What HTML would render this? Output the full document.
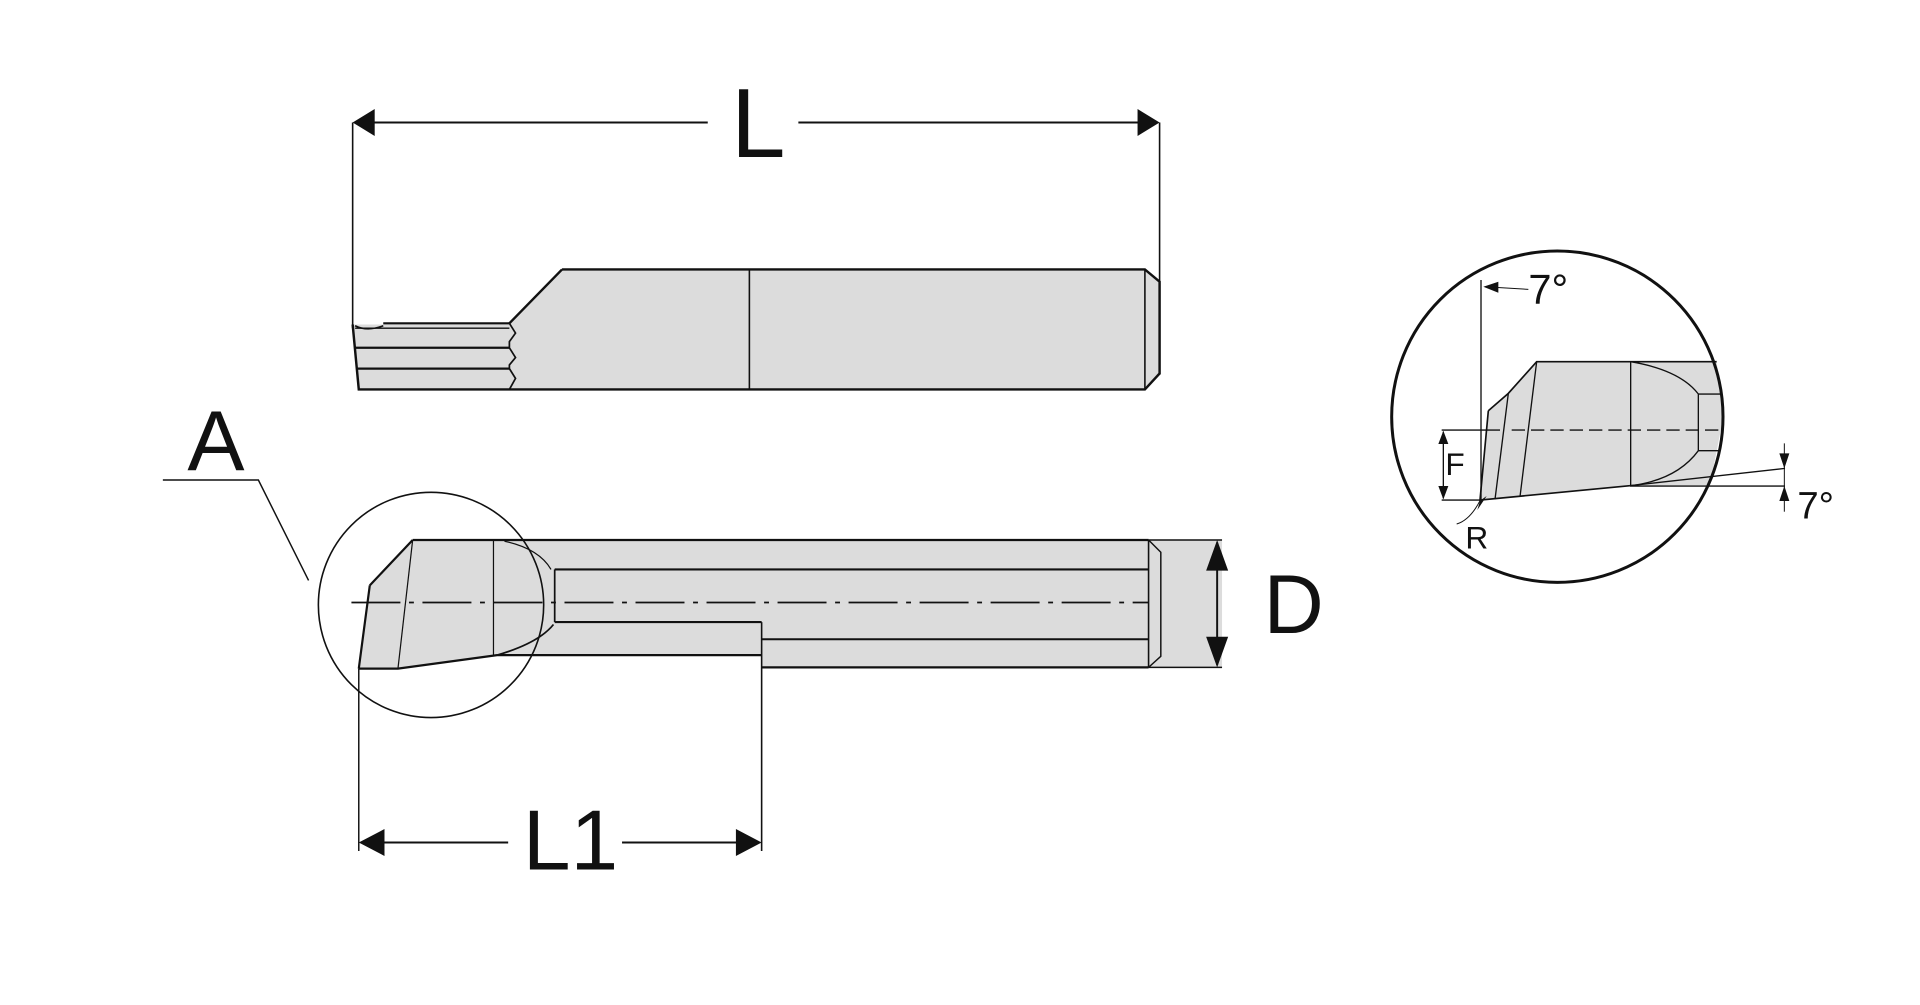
<!DOCTYPE html>
<html><head><meta charset="utf-8"><style>html,body{margin:0;padding:0;background:#fff;}svg{display:block;}</style></head>
<body>
<svg width="1920" height="1005" viewBox="0 0 1568 820.7" xmlns="http://www.w3.org/2000/svg" font-family="Liberation Sans, sans-serif">
<defs>
<marker id="ah" viewBox="0 0 10 10" refX="10" refY="5" markerWidth="10" markerHeight="10" markerUnits="userSpaceOnUse" orient="auto-start-reverse"><path d="M0,0 L10,5 L0,10 z" fill="#111"/></marker>
</defs>
<g stroke="#111" fill="none">
<!-- L dimension -->
<line x1="288" y1="100" x2="288" y2="268" stroke-width="1.3"/>
<line x1="947" y1="100" x2="947" y2="306" stroke-width="1.3"/>
<line x1="290" y1="100" x2="578" y2="100" stroke-width="1.6"/>
<line x1="652" y1="100" x2="945" y2="100" stroke-width="1.6"/>
<path d="M288,100 L306,89 L306,111 z M947,100 L929,89 L929,111 z" fill="#111" stroke="none"/>
<!-- top tool -->
<path d="M288,265 L313,265 L313,263.6 L416,263.6 L459,220 L935,220 L947,230 L947,305 L935,318 L293,318 z" fill="#dcdcdc" stroke="none"/>
<path d="M459,220 L935,220 L947,230 L947,305 L935,318 L293,318 L288,265" stroke-width="2"/>
<path d="M459,220 L416,264" stroke-width="2"/>
<line x1="935" y1="220" x2="935" y2="318" stroke-width="1.3"/>
<line x1="612" y1="220" x2="612" y2="318" stroke-width="1.3"/>
<path d="M313,264 L416,264" stroke-width="1.8"/>
<path d="M290,266 Q300,271 313,266" stroke-width="1.3"/>
<line x1="290" y1="268" x2="416" y2="268" stroke-width="1.2"/>
<line x1="290" y1="284" x2="416" y2="284" stroke-width="1.8"/>
<line x1="291" y1="301" x2="416" y2="301" stroke-width="1.8"/>
<path d="M416,264 L421,272 L416,279 L416,284 L421,292 L416,298 L416,301 L421,309 L416,318" stroke-width="1.4"/>
<!-- bottom tool -->
<path d="M337,441 L998,441 L998,545 L622,545 L622,535 L406,535 L325,546 L293,546 L302,478 z" fill="#dcdcdc" stroke="none"/>
<path d="M337,441 L938,441 M622,545 L938,545 M406,535 L622,535 M302,478 L337,441 M293,546 L302,478 M293,546 L325,546 L406,535" stroke-width="1.8"/>
<line x1="938" y1="441" x2="998" y2="441" stroke-width="1.2"/>
<line x1="938" y1="545" x2="998" y2="545" stroke-width="1.2"/>
<line x1="938" y1="441" x2="938" y2="545" stroke-width="1.3"/>
<path d="M938,441 L948,451 L948,536 L938,545" stroke-width="1.2"/>
<line x1="337" y1="441" x2="325" y2="546" stroke-width="1"/>
<line x1="403" y1="441" x2="403" y2="535" stroke-width="1"/>
<path d="M412,442 Q440,448 450,465" stroke-width="1"/>
<path d="M406,535 Q440,525 452,510" stroke-width="1.4"/>
<line x1="453" y1="465" x2="453" y2="508" stroke-width="1.4"/>
<line x1="453" y1="465" x2="938" y2="465" stroke-width="1.8"/>
<line x1="453" y1="508" x2="622" y2="508" stroke-width="1.8"/>
<line x1="622" y1="508" x2="622" y2="695" stroke-width="1.3"/>
<line x1="622" y1="522" x2="938" y2="522" stroke-width="1.6"/>
<line x1="287" y1="492" x2="938" y2="492" stroke-width="1.4" stroke-dasharray="40,7,4,7"/>
<!-- A circle + leader -->
<circle cx="352" cy="494" r="92" stroke-width="1.3"/>
<path d="M133,392 L211,392 L252,474" stroke-width="1.2"/>
<!-- D dim -->
<line x1="994" y1="443" x2="994" y2="543" stroke-width="1.6"/>
<path d="M994,441 L985,466 L1003,466 z M994,545 L985,520 L1003,520 z" fill="#111" stroke="none"/>
<!-- L1 dim -->
<line x1="293" y1="546" x2="293" y2="695" stroke-width="1.2"/>
<line x1="295" y1="688" x2="415" y2="688" stroke-width="1.6"/>
<line x1="508" y1="688" x2="620" y2="688" stroke-width="1.6"/>
<path d="M293,688 L314,677 L314,699 z M622,688 L601,677 L601,699 z" fill="#111" stroke="none"/>
</g>
<g fill="#111" font-size="80">
<text x="597" y="128">L</text>
<text x="153" y="384" font-size="70">A</text>
<text x="1032" y="517" font-size="68">D</text>
<text x="427" y="710" font-size="70">L1</text>
</g>
<!-- detail -->
<g transform="scale(0.81667) translate(1380,240) scale(0.33333)">
<path d="M325,512 L385,460 L470,365 L1010,365 L1030,530 L990,735 L750,737 L300,780 z" fill="#dcdcdc"/>
<g stroke="#111" fill="none">
<path d="M325,512 L385,460 L470,365 L1010,365" stroke-width="5"/>
<path d="M325,512 L300,780 L750,737" stroke-width="5"/>
<path d="M385,460 L345,778 M470,365 L420,770" stroke-width="4"/>
<line x1="752" y1="365" x2="752" y2="737" stroke-width="4"/>
<path d="M752,365 Q900,390 955,462 L1020,462 M955,462 L955,632 L1020,632 M955,632 Q890,720 752,737" stroke-width="4"/>
<line x1="185" y1="570" x2="360" y2="570" stroke-width="4"/>
<line x1="395" y1="570" x2="1030" y2="570" stroke-width="4" stroke-dasharray="40,18"/>
<line x1="750" y1="737" x2="1215" y2="685" stroke-width="4"/>
<line x1="750" y1="738" x2="1215" y2="738" stroke-width="4"/>
<line x1="1213" y1="610" x2="1213" y2="815" stroke-width="3"/>
<line x1="303" y1="120" x2="303" y2="778" stroke-width="4"/>
<line x1="315" y1="140" x2="445" y2="148" stroke-width="3"/>
<line x1="185" y1="780" x2="300" y2="780" stroke-width="4"/>
<line x1="190" y1="575" x2="190" y2="775" stroke-width="4"/>
<path d="M230,852 Q270,840 300,782" stroke-width="3"/>
<circle cx="532" cy="530" r="497" stroke-width="9"/>
</g>
<g fill="#111">
<path d="M310,140 L355,125 L355,158 z"/>
<path d="M190,572 L175,612 L205,612 z M190,778 L175,738 L205,738 z"/>
<path d="M1213,685 L1198,640 L1228,640 z M1213,738 L1198,783 L1228,783 z"/>
<path d="M300,782 L292,810 L320,768 z"/>
<text x="445" y="190" font-size="125">7°</text>
<text x="196" y="705" font-size="95">F</text>
<text x="256" y="925" font-size="95">R</text>
<text x="1252" y="835" font-size="115">7°</text>
</g>
</g>
</svg>
</body></html>
